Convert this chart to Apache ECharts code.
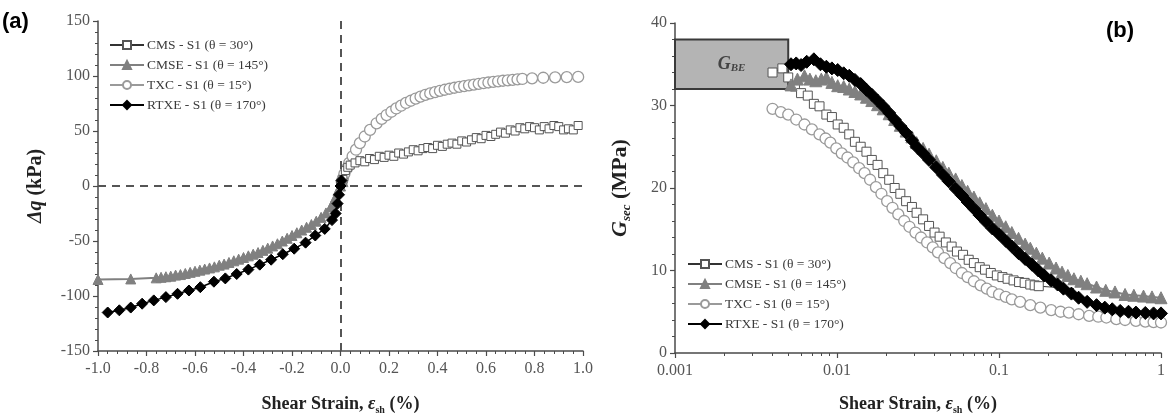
<!DOCTYPE html>
<html>
<head>
<meta charset="utf-8">
<script src="https://cdn.jsdelivr.net/npm/echarts@6/dist/echarts.min.js"></script>
<style>
  html, body { margin: 0; padding: 0; background: #fff; }
  #chart { width: 1169px; height: 420px; }
</style>
</head>
<body>
<div id="chart"></div>
<script>
// ---- Series names ----
const seriesNames = ['CMS - S1 (θ = 30°)', 'CMSE - S1 (θ = 145°)', 'TXC - S1 (θ = 15°)', 'RTXE - S1 (θ = 170°)'];

// ---- (a) deviator stress change vs shear strain: [strain %, Δq kPa] ----
const cmsA = [[0,0],[0.01,6],[0.02,14],[0.03,17],[0.04,19],[0.06,21],[0.08,23],[0.1,22],[0.12,25],[0.14,24],[0.16,27],[0.18,26],[0.2,28],[0.22,27],[0.24,30],[0.26,29],[0.28,31],[0.3,33],[0.32,32],[0.34,34],[0.36,35],[0.38,34],[0.4,37],[0.42,36],[0.44,38],[0.46,39],[0.48,38],[0.5,41],[0.52,40],[0.54,42],[0.56,44],[0.58,43],[0.6,46],[0.62,45],[0.64,47],[0.66,49],[0.68,48],[0.7,51],[0.72,50],[0.74,53],[0.76,52],[0.78,54],[0.8,53],[0.82,51],[0.84,54],[0.86,52],[0.88,55],[0.9,54],[0.92,51],[0.94,52],[0.96,51],[0.98,55]];
const cmseA = [[-1.0,-85],[-0.865,-84.5],[-0.76,-83.5],[-0.74,-83],[-0.72,-82.5],[-0.7,-82],[-0.68,-81],[-0.66,-80.5],[-0.64,-79.5],[-0.62,-78.5],[-0.6,-77.5],[-0.58,-76.5],[-0.56,-75.5],[-0.54,-74.5],[-0.52,-73.5],[-0.5,-72],[-0.48,-71],[-0.46,-69.5],[-0.44,-68],[-0.42,-66.5],[-0.4,-65],[-0.38,-63.5],[-0.36,-62],[-0.34,-60.5],[-0.32,-58.5],[-0.3,-56.5],[-0.28,-54.5],[-0.26,-52.5],[-0.24,-50],[-0.22,-47.5],[-0.2,-45],[-0.18,-42.5],[-0.16,-40],[-0.14,-37.5],[-0.12,-35],[-0.1,-32],[-0.08,-28.5],[-0.06,-24.5],[-0.04,-19],[-0.03,-15],[-0.02,-10],[-0.01,-4],[0,0],[0.01,4]];
const txcA = [[0.005,4],[0.01,7],[0.016,11],[0.025,15.5],[0.036,21],[0.05,27],[0.064,33],[0.08,39],[0.1,45],[0.122,51],[0.149,57],[0.17,61],[0.19,64.5],[0.21,67.5],[0.23,70.5],[0.25,73],[0.27,75.5],[0.29,77.5],[0.31,79.5],[0.33,81.2],[0.35,82.8],[0.37,84.2],[0.39,85.4],[0.41,86.5],[0.43,87.5],[0.45,88.4],[0.47,89.3],[0.49,90.1],[0.51,90.8],[0.53,91.5],[0.55,92.2],[0.57,92.9],[0.59,93.5],[0.61,94.1],[0.63,94.7],[0.65,95.2],[0.67,95.7],[0.69,96.1],[0.71,96.5],[0.73,96.9],[0.75,97.3],[0.79,97.9],[0.836,98.4],[0.885,98.8],[0.933,99],[0.98,99.2]];
const rtxeA = [[-0.96,-115],[-0.912,-113],[-0.865,-110.5],[-0.818,-107],[-0.77,-104],[-0.72,-101],[-0.672,-98],[-0.625,-95],[-0.578,-92],[-0.522,-87],[-0.475,-84],[-0.428,-80],[-0.38,-76],[-0.333,-71.5],[-0.286,-67],[-0.238,-62],[-0.191,-57],[-0.144,-51.5],[-0.104,-45],[-0.065,-39],[-0.035,-31],[-0.02,-25],[-0.012,-16],[-0.006,-8],[0,0],[0.004,5]];

// ---- (b) secant shear modulus vs shear strain: [strain %, Gsec MPa] ----
const cmsB = [[0.004,34.0],[0.0046,34.5],[0.005,33.4],[0.0055,32.3],[0.006,31.5],[0.0066,31.2],[0.0072,30.2],[0.0078,29.9],[0.0086,28.9],[0.0093,28.6],[0.0101,27.7],[0.011,27.3],[0.0119,26.5],[0.0129,25.6],[0.014,25.0],[0.0152,24.4],[0.0164,23.4],[0.0178,22.8],[0.0193,21.8],[0.021,21.0],[0.0227,20.0],[0.0246,19.3],[0.0267,18.4],[0.029,17.7],[0.031,17.0],[0.034,16.2],[0.037,15.4],[0.04,14.6],[0.043,14.1],[0.047,13.4],[0.051,12.9],[0.055,12.3],[0.06,11.9],[0.065,11.3],[0.07,10.9],[0.076,10.4],[0.082,10.1],[0.089,9.7],[0.097,9.4],[0.105,9.2],[0.113,9.0],[0.123,8.8],[0.133,8.6],[0.144,8.5],[0.156,8.3],[0.166,8.2],[0.176,8.1],[0.29,7.8]];
const cmseB = [[0.0052,32.5],[0.0057,33.2],[0.0063,33.6],[0.0068,33.2],[0.0074,33.0],[0.008,33.2],[0.0086,33.4],[0.0093,32.8],[0.0101,32.4],[0.011,32.3],[0.0119,32.0],[0.0129,31.7],[0.014,31.4],[0.0152,31.0],[0.0164,30.6],[0.0178,30.1],[0.0193,29.6],[0.021,29.0],[0.0227,28.3],[0.0246,27.6],[0.0267,26.9],[0.029,26.2],[0.031,25.5],[0.034,24.8],[0.037,24.1],[0.041,23.3],[0.045,22.5],[0.049,21.8],[0.054,21.1],[0.059,20.3],[0.064,19.6],[0.07,18.9],[0.076,18.2],[0.083,17.5],[0.091,16.7],[0.1,16.0],[0.11,15.3],[0.12,14.6],[0.132,13.9],[0.145,13.2],[0.156,12.7],[0.17,12.1],[0.185,11.5],[0.204,10.9],[0.225,10.3],[0.245,9.8],[0.266,9.4],[0.29,9.0],[0.32,8.7],[0.35,8.4],[0.4,8.0],[0.456,7.6],[0.52,7.4],[0.6,7.1],[0.68,7.0],[0.78,6.9],[0.88,6.8],[1.0,6.7]];
const txcB = [[0.004,29.6],[0.0045,29.2],[0.005,28.9],[0.0056,28.3],[0.0063,27.7],[0.007,27.1],[0.0078,26.5],[0.0085,26.0],[0.0091,25.5],[0.0099,24.8],[0.0107,24.2],[0.0116,23.7],[0.0126,23.1],[0.0137,22.4],[0.0148,21.8],[0.016,21.0],[0.0174,20.1],[0.0188,19.3],[0.0204,18.4],[0.022,17.6],[0.0239,16.8],[0.026,16.0],[0.028,15.3],[0.0305,14.6],[0.033,14.0],[0.036,13.4],[0.039,12.8],[0.042,12.2],[0.046,11.5],[0.05,10.9],[0.054,10.3],[0.059,9.7],[0.064,9.2],[0.07,8.7],[0.077,8.2],[0.084,7.8],[0.091,7.4],[0.1,7.1],[0.11,6.8],[0.12,6.5],[0.135,6.2],[0.156,5.8],[0.18,5.5],[0.21,5.2],[0.24,5.0],[0.27,4.9],[0.31,4.7],[0.36,4.5],[0.41,4.4],[0.46,4.3],[0.53,4.1],[0.6,4.0],[0.7,3.9],[0.8,3.8],[0.9,3.75],[1.0,3.7]];
const rtxeB = [[0.0052,35.0],[0.0056,35.1],[0.006,34.9],[0.0065,35.3],[0.0072,35.6],[0.0079,35.0],[0.0086,34.7],[0.0093,34.5],[0.0101,34.3],[0.011,33.9],[0.0119,33.6],[0.0129,33.1],[0.014,32.6],[0.0152,31.9],[0.0164,31.3],[0.0178,30.6],[0.0193,29.9],[0.021,29.1],[0.0227,28.3],[0.0246,27.5],[0.0267,26.7],[0.029,25.8],[0.031,25.0],[0.034,24.2],[0.037,23.4],[0.041,22.5],[0.045,21.6],[0.049,20.8],[0.054,19.9],[0.059,19.1],[0.064,18.3],[0.07,17.5],[0.076,16.7],[0.083,15.9],[0.091,15.1],[0.1,14.4],[0.11,13.6],[0.12,12.9],[0.132,12.1],[0.145,11.4],[0.16,10.7],[0.175,10.0],[0.19,9.4],[0.21,8.8],[0.23,8.3],[0.25,7.8],[0.28,7.2],[0.31,6.7],[0.35,6.2],[0.4,5.8],[0.45,5.5],[0.5,5.3],[0.56,5.1],[0.63,5.0],[0.7,4.9],[0.8,4.85],[0.9,4.8],[1.0,4.8]];

// Bender-element modulus band: strain range and Gsec range
const gbeStrain = [0.001, 0.005];
const gbeModulus = [32, 38];

// ---- Axis ranges and ticks ----
const axisA = { xMin: -1, xMax: 1, xStep: 0.2, yMin: -150, yMax: 150, yStep: 50 };
const axisB = { xMin: 0.001, xMax: 1, yMin: 0, yMax: 40, yStep: 10 };

const SERIF = '"Liberation Serif", "Times New Roman", serif';
const AXIS_COLOR = '#4a4a4a';
const LABEL_COLOR = '#555';

// Marker styles per test: [panel a, panel b] sizes differ slightly
const styles = [
  { symbol: 'rect', size: [8, 9], itemStyle: { color: '#fff', borderColor: '#555', borderWidth: 1 }, lineStyle: { color: '#333', width: 1 } },
  { symbol: 'triangle', size: [10, 12], itemStyle: { color: '#808080', borderColor: '#808080', borderWidth: 1 }, lineStyle: { color: '#808080', width: 2 } },
  { symbol: 'circle', size: [11, 11], itemStyle: { color: '#fff', borderColor: '#9a9a9a', borderWidth: 1.3 }, lineStyle: { color: '#9a9a9a', width: 1.5 } },
  { symbol: 'diamond', size: [11, 13], itemStyle: { color: '#000', borderColor: '#000', borderWidth: 1 }, lineStyle: { color: '#000', width: 1.5 } }
];

function makeSeries(idx, data, gi, extra) {
  return Object.assign({
    name: seriesNames[idx],
    type: 'line',
    xAxisIndex: gi,
    yAxisIndex: gi,
    data: data,
    showAllSymbol: true,
    animation: false,
    symbol: styles[idx].symbol,
    symbolSize: styles[idx].size[gi],
    itemStyle: styles[idx].itemStyle,
    lineStyle: styles[idx].lineStyle,
    emphasis: { disabled: true }
  }, extra || {});
}

function valueAxisCommon() {
  return {
    axisLine: { show: true, onZero: false, lineStyle: { color: AXIS_COLOR, width: 1.5 } },
    axisTick: { show: true, length: 5, lineStyle: { color: AXIS_COLOR, width: 1.2 } },
    minorTick: { show: true, length: 3, lineStyle: { color: AXIS_COLOR, width: 1 } },
    splitLine: { show: false },
    axisLabel: { fontFamily: SERIF, fontSize: 16, color: LABEL_COLOR }
  };
}

const xNameRich = {
  b: { fontFamily: SERIF, fontSize: 18, fontWeight: 'bold', color: '#222' },
  e: { fontFamily: SERIF, fontSize: 18, fontWeight: 'bold', fontStyle: 'italic', color: '#222' },
  s: { fontFamily: SERIF, fontSize: 10, fontWeight: 'bold', color: '#222', padding: [12, 0, 0, 0] }
};
const xName = '{b|Shear Strain, }{e|ε}{s|sh}{b| (%)}';

// CMS last point in (b) is a connecting line end without a marker
const cmsBData = cmsB.map((p, i) => i === cmsB.length - 1 ? { value: p, symbol: 'none' } : p);

const legendText = { fontFamily: SERIF, fontSize: 13.5, color: '#3a3a3a', padding: [0, 0, 0, -2] };

const option = {
  backgroundColor: '#fff',
  animation: false,
  grid: [
    { left: 98, top: 21, width: 485, height: 332 },
    { left: 675, top: 23, width: 486, height: 333 }
  ],
  xAxis: [
    Object.assign(valueAxisCommon(), {
      type: 'value', gridIndex: 0, min: axisA.xMin, max: axisA.xMax, interval: axisA.xStep,
      minorTick: { show: true, splitNumber: 5, length: 3, lineStyle: { color: AXIS_COLOR } },
      axisLabel: { fontFamily: SERIF, fontSize: 16, color: LABEL_COLOR, margin: 10, formatter: v => v.toFixed(1) },
      name: xName, nameLocation: 'middle', nameGap: 42,
      nameTextStyle: { rich: xNameRich }
    }),
    Object.assign(valueAxisCommon(), {
      type: 'log', gridIndex: 1, min: axisB.xMin, max: axisB.xMax, logBase: 10,
      minorTick: { show: true, splitNumber: 9, length: 3, lineStyle: { color: AXIS_COLOR } },
      axisLabel: { fontFamily: SERIF, fontSize: 16, color: LABEL_COLOR, margin: 10, formatter: v => String(Number(v.toPrecision(6))) },
      name: xName, nameLocation: 'middle', nameGap: 40,
      nameTextStyle: { rich: xNameRich }
    })
  ],
  yAxis: [
    Object.assign(valueAxisCommon(), {
      type: 'value', gridIndex: 0, min: axisA.yMin, max: axisA.yMax, interval: axisA.yStep,
      minorTick: { show: true, splitNumber: 5, length: 3, lineStyle: { color: AXIS_COLOR } },
      name: '{i|Δq}{b| (kPa)}', nameLocation: 'middle', nameGap: 52, nameRotate: 90,
      nameTextStyle: { rich: {
        i: { fontFamily: SERIF, fontSize: 20, fontWeight: 'bold', fontStyle: 'italic', color: '#222' },
        b: { fontFamily: SERIF, fontSize: 20, fontWeight: 'bold', color: '#222' }
      } }
    }),
    Object.assign(valueAxisCommon(), {
      type: 'value', gridIndex: 1, min: axisB.yMin, max: axisB.yMax, interval: axisB.yStep,
      minorTick: { show: true, splitNumber: 5, length: 3, lineStyle: { color: AXIS_COLOR } },
      name: '{g|G}{s|sec}{b| (MPa)}', nameLocation: 'middle', nameGap: 42, nameRotate: 90,
      nameTextStyle: { rich: {
        g: { fontFamily: SERIF, fontSize: 22, fontWeight: 'bold', fontStyle: 'italic', color: '#222' },
        s: { fontFamily: SERIF, fontSize: 13, fontWeight: 'bold', fontStyle: 'italic', color: '#222', padding: [12, 0, 0, 0] },
        b: { fontFamily: SERIF, fontSize: 22, fontWeight: 'bold', color: '#222' }
      } }
    })
  ],
  legend: [
    {
      left: 104, top: 33, orient: 'vertical', itemWidth: 34, itemHeight: 10, itemGap: 6,
      selectedMode: false, data: seriesNames, textStyle: legendText
    },
    {
      left: 682, top: 252, orient: 'vertical', itemWidth: 34, itemHeight: 10, itemGap: 6,
      selectedMode: false, data: seriesNames, textStyle: legendText
    }
  ],
  graphic: [
    { type: 'text', left: 2, top: 11, style: { text: '(a)', font: 'bold 22px "Liberation Sans", Arial, sans-serif', fill: '#000' } },
    { type: 'text', left: 1106, top: 20, style: { text: '(b)', font: 'bold 22px "Liberation Sans", Arial, sans-serif', fill: '#000' } }
  ],
  series: [
    // (a)
    makeSeries(2, txcA, 0, { z: 2 }),
    makeSeries(0, cmsA, 0, {
      z: 3,
      markLine: {
        silent: true, symbol: ['none', 'none'], label: { show: false }, animation: false,
        lineStyle: { color: '#555', width: 2, type: [8, 6] },
        data: [{ xAxis: 0 }, { yAxis: 0 }]
      }
    }),
    makeSeries(1, cmseA, 0, { z: 4 }),
    makeSeries(3, rtxeA, 0, { z: 5 }),
    // (b)
    makeSeries(2, txcB, 1, {
      z: 2,
      markArea: {
        silent: true, animation: false,
        itemStyle: { color: '#b4b4b4', borderColor: '#3a3a3a', borderWidth: 2 },
        label: {
          show: true, position: 'inside',
          formatter: '{g|G}{s|BE}',
          rich: {
            g: { fontFamily: SERIF, fontSize: 18, fontStyle: 'italic', fontWeight: 'bold', color: '#444' },
            s: { fontFamily: SERIF, fontSize: 11, fontStyle: 'italic', fontWeight: 'bold', color: '#444', padding: [8, 0, 0, 0] }
          }
        },
        data: [[{ coord: [gbeStrain[0], gbeModulus[0]] }, { coord: [gbeStrain[1], gbeModulus[1]] }]]
      }
    }),
    makeSeries(0, cmsBData, 1, { z: 3 }),
    makeSeries(1, cmseB, 1, { z: 4 }),
    makeSeries(3, rtxeB, 1, { z: 5 })
  ]
};

const chart = echarts.init(document.getElementById('chart'), null, { renderer: 'canvas' });
chart.setOption(option);
</script>
</body>
</html>
